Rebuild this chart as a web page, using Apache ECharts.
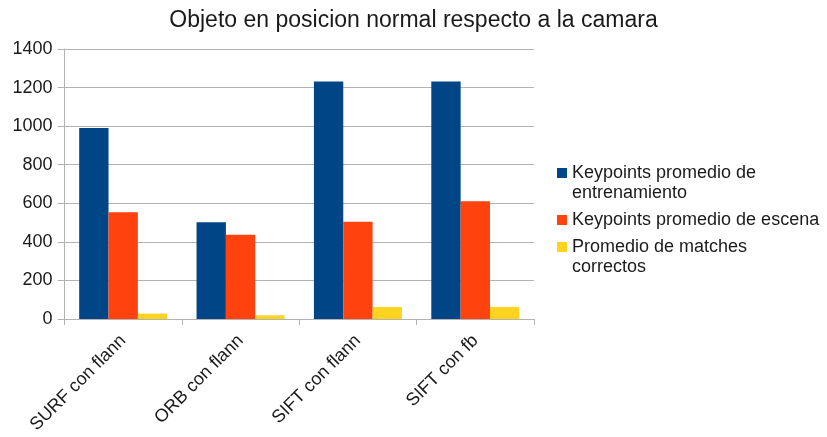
<!DOCTYPE html>
<html>
<head>
<meta charset="utf-8">
<script src="https://cdn.jsdelivr.net/npm/echarts@6/dist/echarts.min.js"></script>
<style>
  html, body { margin: 0; padding: 0; background: #fff; }
  #chart { width: 827px; height: 437px; }
</style>
</head>
<body>
<div id="chart"></div>
<script>
// Methods compared
const categories = ['SURF con flann', 'ORB con flann', 'SIFT con flann', 'SIFT con fb'];

// Series values
const keypointsEntrenamiento = [990, 502, 1232, 1232];
const keypointsEscena = [553, 437, 504, 610];
const matchesCorrectos = [28, 19, 62, 62];

// Series names
const seriesNames = [
  'Keypoints promedio de\nentrenamiento',
  'Keypoints promedio de escena',
  'Promedio de matches\ncorrectos'
];

// Y axis range
const yMin = 0, yMax = 1400, yStep = 200;

const colors = ['#004586', '#ff420e', '#ffd320'];
const font = '"Liberation Sans", Arial, sans-serif';
const textColor = '#1a1a1a';

const chart = echarts.init(document.getElementById('chart'), null, { renderer: 'canvas' });

// One legend block per series; two-line names get a leading blank line so the
// swatch stays level with the first line of text
function legendAt(name, top) {
  return {
    data: [name],
    orient: 'vertical',
    left: 557,
    top: top,
    itemWidth: 10,
    itemHeight: 10,
    itemGap: 0,
    selectedMode: false,
    icon: 'rect',
    padding: 0,
    formatter: (n) => (n.indexOf('\n') >= 0 ? ' \n' + n : n),
    textStyle: {
      fontFamily: font,
      fontSize: 18,
      color: textColor,
      lineHeight: 20
    }
  };
}

chart.setOption({
  animation: false,
  color: colors,
  title: {
    text: 'Objeto en posicion normal respecto a la camara',
    left: 'center',
    top: 4,
    textStyle: { fontFamily: font, fontSize: 23, fontWeight: 'normal', color: textColor }
  },
  legend: [
    legendAt(seriesNames[0], 143),
    legendAt(seriesNames[1], 210),
    legendAt(seriesNames[2], 217)
  ],
  grid: { left: 64.5, right: 293, top: 49, bottom: 118, containLabel: false },
  xAxis: {
    type: 'category',
    data: categories,
    boundaryGap: true,
    axisLine: { lineStyle: { color: '#b3b3b3', width: 1 } },
    axisTick: { show: true, length: 6, alignWithLabel: false, lineStyle: { color: '#b3b3b3' } },
    axisLabel: {
      rotate: 45,
      margin: 19,
      fontFamily: font,
      fontSize: 18,
      color: textColor
    },
    splitLine: { show: false }
  },
  yAxis: {
    type: 'value',
    min: yMin,
    max: yMax,
    interval: yStep,
    axisLine: { show: true, lineStyle: { color: '#b3b3b3', width: 1 } },
    axisTick: { show: true, length: 7, lineStyle: { color: '#b3b3b3' } },
    axisLabel: {
      margin: 12,
      fontFamily: font,
      fontSize: 18,
      color: textColor,
      formatter: (v) => String(v)
    },
    splitLine: { show: true, lineStyle: { color: '#b3b3b3', width: 1 } }
  },
  series: [
    { name: seriesNames[0], type: 'bar', data: keypointsEntrenamiento, barGap: '0%', barCategoryGap: '25%' },
    { name: seriesNames[1], type: 'bar', data: keypointsEscena, barGap: '0%', barCategoryGap: '25%' },
    { name: seriesNames[2], type: 'bar', data: matchesCorrectos, barGap: '0%', barCategoryGap: '25%' }
  ]
});
</script>
</body>
</html>
